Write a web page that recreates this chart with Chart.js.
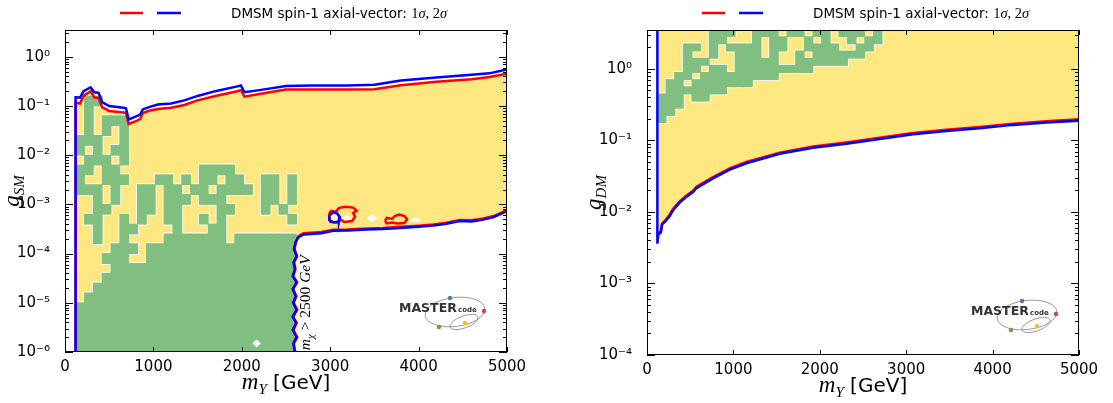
<!DOCTYPE html>
<html>
<head>
<meta charset="utf-8">
<title>DMSM spin-1 axial-vector</title>
<script src="https://cdn.jsdelivr.net/npm/chart.js@4.4.1/dist/chart.umd.min.js"></script>
<style>
  body { margin: 0; background: #fff; }
  canvas { position: absolute; top: 0; }
  #left { left: 0; }
  #right { left: 556px; }
</style>
</head>
<body>
<canvas id="left" width="556" height="403"></canvas>
<canvas id="right" width="557" height="403"></canvas>
<script>
// ---- values ----
const xTicks = [0, 1000, 2000, 3000, 4000, 5000];
const xTickLabels = ['0', '1000', '2000', '3000', '4000', '5000'];
const leftDecades = [1e-6, 1e-5, 1e-4, 1e-3, 1e-2, 1e-1, 1];
const leftDecadeLabels = ['10⁻⁶', '10⁻⁵', '10⁻⁴', '10⁻³', '10⁻²', '10⁻¹', '10⁰'];
const rightDecades = [1e-4, 1e-3, 1e-2, 1e-1, 1];
const rightDecadeLabels = ['10⁻⁴', '10⁻³', '10⁻²', '10⁻¹', '10⁰'];
const yTop = 3.5;

// left panel (g_SM): 1 sigma (red) and 2 sigma (blue) contours
const leftRedUpper = [[120,1e-6],[120,0.117],[170,0.112],[210,0.16],[290,0.2],[330,0.15],[380,0.145],[420,0.095],[500,0.079],[660,0.074],[690,0.073],[720,0.043],[810,0.05],[850,0.054],[880,0.072],[950,0.08],[1050,0.087],[1200,0.092],[1350,0.105],[1500,0.13],[1700,0.16],[1950,0.2],[1990,0.21],[2030,0.155],[2200,0.175],[2500,0.215],[2800,0.215],[3200,0.215],[3500,0.22],[3800,0.265],[4200,0.31],[4600,0.35],[4800,0.39],[5000,0.45]];
const leftBlueUpper = [[120,1e-6],[120,0.150],[170,0.148],[210,0.2],[290,0.24],[330,0.19],[380,0.185],[420,0.12],[500,0.1],[660,0.092],[690,0.09],[720,0.053],[810,0.062],[850,0.067],[880,0.085],[950,0.095],[1050,0.107],[1200,0.112],[1350,0.13],[1500,0.16],[1700,0.2],[1950,0.25],[1990,0.26],[2030,0.19],[2200,0.21],[2500,0.255],[2800,0.26],[3200,0.26],[3500,0.27],[3800,0.33],[4200,0.38],[4600,0.43],[4800,0.46],[5000,0.55]];
const leftBlueLower = [[2600,1e-6],[2582,1.5e-6],[2620,2.0e-6],[2576,2.8e-6],[2615,3.9e-6],[2575,5.2e-6],[2620,7.2e-6],[2580,1.0e-5],[2610,1.35e-5],[2575,1.9e-5],[2620,2.6e-5],[2575,3.5e-5],[2600,4.8e-5],[2585,6.6e-5],[2620,8.9e-5],[2590,1.23e-4],[2608,1.7e-4],[2635,2.1e-4],[2670,2.3e-4],[2700,2.45e-4],[2900,2.6e-4],[3035,2.9e-4],[3200,2.95e-4],[3413,3.1e-4],[3600,3.15e-4],[3790,3.3e-4],[4000,3.5e-4],[4166,3.7e-4],[4300,4.0e-4],[4468,4.6e-4],[4600,4.5e-4],[4732,4.9e-4],[4850,5.5e-4],[5000,7.3e-4]];
const leftRedLower = [[2605,1e-6],[2590,1.5e-6],[2628,2.0e-6],[2585,2.8e-6],[2622,3.9e-6],[2582,5.2e-6],[2628,7.2e-6],[2588,1.0e-5],[2618,1.35e-5],[2582,1.9e-5],[2626,2.6e-5],[2582,3.5e-5],[2608,4.8e-5],[2592,6.6e-5],[2626,8.9e-5],[2596,1.23e-4],[2615,1.75e-4],[2640,2.25e-4],[2675,2.45e-4],[2700,2.6e-4],[2900,2.75e-4],[3035,3.05e-4],[3200,3.1e-4],[3413,3.25e-4],[3600,3.3e-4],[3790,3.5e-4],[4000,3.7e-4],[4166,3.9e-4],[4300,4.2e-4],[4468,4.8e-4],[4600,4.75e-4],[4732,5.15e-4],[4850,5.8e-4],[5000,7.6e-4]];
const leftRedIslands = [
  [[2990,6.6e-4],[3010,7.4e-4],[3060,7.0e-4],[3100,8.5e-4],[3180,8.9e-4],[3260,8.6e-4],[3300,7.5e-4],[3260,6.7e-4],[3280,5.6e-4],[3250,4.6e-4],[3160,4.4e-4],[3120,4.9e-4],[3080,4.3e-4],[3000,4.4e-4],[2990,5.2e-4],[2990,6.6e-4]],
  [[3620,4.6e-4],[3640,5.3e-4],[3700,5.1e-4],[3730,5.8e-4],[3780,6.2e-4],[3840,5.8e-4],[3870,5.0e-4],[3840,4.2e-4],[3760,4.1e-4],[3700,4.3e-4],[3640,4.1e-4],[3620,4.6e-4]]
];
const leftBlueIsland = [[2990,6.0e-4],[3040,7.0e-4],[3080,6.5e-4],[3110,5.5e-4],[3100,4.5e-4],[3040,4.3e-4],[2990,4.8e-4],[2990,6.0e-4]];
const leftWhiteHoles = [
  [[2120,1.5e-6],[2168,1.8e-6],[2215,1.5e-6],[2168,1.25e-6]],
  [[3005,5.6e-4],[3050,6.3e-4],[3090,5.4e-4],[3070,4.6e-4],[3015,4.6e-4]],
  [[3140,5.2e-4],[3180,6.1e-4],[3230,5.6e-4],[3230,4.8e-4],[3170,4.6e-4]],
  [[3410,5.2e-4],[3475,6.2e-4],[3540,5.2e-4],[3475,4.4e-4]],
  [[3900,4.8e-4],[3960,5.4e-4],[4030,4.8e-4],[3960,4.3e-4]]
];

// profile-likelihood cells: 'G' = green (68% CL) cell, '.' = none
// columns are 100 GeV wide, centred on cellX; rows run downwards from rowTop in log10 steps
const cellX = [170,270,370,470,570,670,770,870,970,1070,1170,1270,1370,1470,1570,1670,1770,1870,1970,2070,2170,2270,2370,2470,2570,2670];
const leftRowTop = -0.6, leftRowStep = 0.2;
const leftGreen = [
  ".........................",
  ".GG......................",
  ".G.......................",
  ".G.GGG...................",
  ".G.G.G...................",
  "GGG..G...................",
  "G.G.GG...................",
  ".GGG.G...................",
  "GG.GG.........GGGG.......",
  "G..GGG...GG.G.GG.GG..GG.G",
  "GGG.G..GG.GG.GG.GGGG.GG.G",
  "..G.G..GG.GGG.GGG....GG.G",
  "..GG...GG.GG....GG...G.G.",
  ".GG..G.G..GG..G.G.......G",
  "..G..GG....G...GG........",
  "..G..G....GGGGGGG.GGGGGGG",
  "....GGG.GGGGGGGGGGGGGGGGG",
  "...GGG..GGGGGGGGGGGGGGGGG",
  "....GGGGGGGGGGGGGGGGGGGGG",
  "...GGGGGGGGGGGGGGGGGGGGGG",
  "..GGGGGGGGGGGGGGGGGGGGGGG",
  ".GGGGGGGGGGGGGGGGGGGGGGGG",
  "GGGGGGGGGGGGGGGGGGGGGGGGG",
  "GGGGGGGGGGGGGGGGGGGGGGGGG",
  "GGGGGGGGGGGGGGGGGGGGGGGGG",
  "GGGGGGGGGGGGGGGGGGGGGGGGG",
  "GGGGGGGGGGGGGGGGGGGGGGGGG"
];

// right panel (g_DM)
const rightBlue = [[120,3.5],[120,3.6e-3],[130,4.8e-3],[160,5.2e-3],[175,6.7e-3],[210,7.3e-3],[263,8.8e-3],[300,1.05e-2],[378,1.35e-2],[450,1.6e-2],[532,1.9e-2],[572,2.15e-2],[764,2.95e-2],[957,3.9e-2],[1150,4.8e-2],[1536,6.5e-2],[1921,7.9e-2],[2307,9.0e-2],[2693,0.105],[3080,0.122],[3465,0.136],[3851,0.148],[4237,0.165],[4623,0.178],[5000,0.188]];
const rightRed = [[128,4.9e-3],[160,5.4e-3],[175,6.9e-3],[210,7.6e-3],[263,9.2e-3],[300,1.1e-2],[378,1.4e-2],[450,1.67e-2],[532,1.98e-2],[572,2.25e-2],[764,3.08e-2],[957,4.05e-2],[1150,5.0e-2],[1536,6.75e-2],[1921,8.2e-2],[2307,9.35e-2],[2693,0.109],[3080,0.127],[3465,0.141],[3851,0.154],[4237,0.171],[4623,0.185],[5000,0.198]];
const rightRowTop = 0.55, rightRowStep = 0.1;
const rightGreen = [
  "......GGG..GGG.GG.GG.GGG.G",
  "......GG...G.GG..G.G..G.GG",
  "...GG.G.GGGG.GG..GGGG..GG.",
  "...G..G..GGG.G..G.GGGGGG..",
  "...GGG...GGGGG..GGGGGG....",
  "...GG.GG.GGGGGGGGG........",
  "..GG.GGGGGGGGG............",
  ".GG.GGGGGGG...............",
  ".GGGGGGG..................",
  "GGG.GG....................",
  "GGG.......................",
  "GG........................",
  "G........................."
];

const noteX = 2770, noteY = 1e-5;

// ---- styling ----
const SANS = '"DejaVu Sans", Verdana, sans-serif';
const SERIF = '"Liberation Serif", "DejaVu Serif", serif';
const YELLOW = '#ffe882', GREEN = '#80bf80', RED = '#ff0000', BLUE = '#0000ff';

const pts = arr => arr.map(p => ({x: p[0], y: p[1]}));

function lineSet(data, color, order) {
  return {type: 'line', data: pts(data), borderColor: color, borderWidth: 2.5, pointRadius: 0,
          fill: false, tension: 0, order: order};
}
function areaSet(data, color, fill, order) {
  return {type: 'line', data: pts(data), backgroundColor: color, borderWidth: 0, pointRadius: 0,
          fill: fill, tension: 0, order: order, clip: 0};
}
// turn the cell rows into floating bars, one bar per vertical run of green cells.
// a slightly wider white copy goes underneath so the green patches get a thin white edge
function cellBars(rows, rowTop, rowStep) {
  const lists = [];
  for (let c = 0; c < rows[0].length; c++) {
    let start = -1, k = 0;
    for (let r = 0; r <= rows.length; r++) {
      const on = r < rows.length && rows[r][c] === 'G';
      if (on && start < 0) start = r;
      if (!on && start >= 0) {
        (lists[k] = lists[k] || []).push({x: cellX[c],
          y: [Math.pow(10, rowTop - rowStep * r), Math.pow(10, rowTop - rowStep * start)]});
        k++;
        start = -1;
      }
    }
  }
  const bar = (data, color, inflate, order) => ({type: 'bar', data: data, backgroundColor: color, borderWidth: 0,
    grouped: false, barPercentage: 1, categoryPercentage: 1, inflateAmount: inflate, clip: 0, order: order});
  return lists.map(d => bar(d, '#ffffff', 1.3, 9)).concat(lists.map(d => bar(d, GREEN, 0.5, 8)));
}

function logTicks(decades, max) {
  const t = [];
  decades.forEach(d => {
    t.push({value: d, major: true});
    for (let m = 2; m <= 9; m++) if (d * m <= max) t.push({value: d * m, major: false});
  });
  return t;
}

function drawRuns(ctx, runs, x, y, align) {
  let w = 0;
  runs.forEach(r => { ctx.font = r[1]; w += ctx.measureText(r[0]).width; });
  let cx = align === 'center' ? x - w / 2 : x;
  runs.forEach(r => {
    ctx.font = r[1];
    ctx.fillText(r[0], cx, y + (r[2] || 0));
    cx += ctx.measureText(r[0]).width;
  });
}

const decor = {
  id: 'decor',
  afterDraw(chart, args, o) {
    const {ctx, chartArea: a, scales: {x, y}} = chart;
    ctx.save();
    ctx.textAlign = 'left';
    ctx.textBaseline = 'alphabetic';

    // frame and inward ticks
    ctx.strokeStyle = '#000';
    ctx.lineWidth = 1;
    ctx.beginPath();
    x.ticks.forEach(t => {
      const p = Math.round(x.getPixelForValue(t.value)) + 0.5;
      ctx.moveTo(p, a.bottom); ctx.lineTo(p, a.bottom - 5);
      ctx.moveTo(p, a.top); ctx.lineTo(p, a.top + 5);
    });
    y.ticks.forEach(t => {
      const p = Math.round(y.getPixelForValue(t.value)) + 0.5;
      const l = t.major ? 8 : 4;
      ctx.moveTo(a.left, p); ctx.lineTo(a.left + l, p);
      ctx.moveTo(a.right, p); ctx.lineTo(a.right - l, p);
    });
    ctx.stroke();
    ctx.strokeRect(a.left + 0.5, a.top + 0.5, a.width - 1, a.height - 1);

    // legend
    ctx.lineWidth = 2.5;
    ctx.strokeStyle = RED;
    ctx.beginPath(); ctx.moveTo(a.left + 55, 13); ctx.lineTo(a.left + 78, 13); ctx.stroke();
    ctx.strokeStyle = BLUE;
    ctx.beginPath(); ctx.moveTo(a.left + 92, 13); ctx.lineTo(a.left + 116, 13); ctx.stroke();
    ctx.fillStyle = '#000';
    drawRuns(ctx, [['DMSM spin-1 axial-vector: ', `13.5px ${SANS}`], ['1', `14.5px ${SERIF}`],
      ['σ', `italic 14.5px ${SERIF}`], [', 2', `14.5px ${SERIF}`], ['σ', `italic 14.5px ${SERIF}`]],
      a.left + 166, 17.5, 'left');

    // axis titles
    drawRuns(ctx, [['m', `italic 23px ${SERIF}`], ['Y', `italic 15px ${SERIF}`, 5], [' [GeV]', `20px ${SANS}`]],
      (a.left + a.right) / 2, a.bottom + 37, 'center');
    ctx.save();
    ctx.translate(a.left - 46, (a.top + a.bottom) / 2);
    ctx.rotate(-Math.PI / 2);
    drawRuns(ctx, [['g', `italic 23px ${SERIF}`], [o.ySub, `italic 15px ${SERIF}`, 5]], 0, 0, 'center');
    ctx.restore();

    // note along the m_chi boundary
    if (o.note) {
      ctx.save();
      ctx.translate(x.getPixelForValue(noteX), y.getPixelForValue(noteY));
      ctx.rotate(-Math.PI / 2);
      drawRuns(ctx, [['m', `italic 15.5px ${SERIF}`], ['χ', `italic 11px ${SERIF}`, 4],
        [' > 2500 ', `15.5px ${SERIF}`], ['GeV', `italic 15.5px ${SERIF}`]], 0, 0, 'center');
      ctx.restore();
    }

    // MasterCode logo
    const lx = a.right - 108, ly = a.bottom - 40;
    ctx.strokeStyle = '#808080';
    ctx.lineWidth = 0.8;
    ctx.beginPath(); ctx.ellipse(lx + 56, ly, 30, 14.5, -0.12, 0, Math.PI * 2); ctx.stroke();
    ctx.beginPath(); ctx.ellipse(lx + 65, ly + 10, 15, 6, -0.35, 0, Math.PI * 2); ctx.stroke();
    ctx.fillStyle = '#333';
    ctx.font = `bold 12.5px ${SANS}`;
    ctx.fillText('MASTER', lx, ly);
    ctx.font = `bold 7px ${SANS}`;
    ctx.fillText('code', lx + 59, ly);
    [[51, -14, '#4a78a8'], [85, -1, '#d04a40'], [66, 11, '#f2c21e'], [40, 15, '#6aa04e']].forEach(d => {
      ctx.fillStyle = d[2];
      ctx.beginPath(); ctx.arc(lx + d[0], ly + d[1], 2.2, 0, Math.PI * 2); ctx.fill();
    });
    ctx.restore();
  }
};

function makeOptions(cfg) {
  return {
    responsive: false,
    animation: false,
    events: [],
    layout: {padding: {top: 30, right: cfg.padRight, bottom: 0, left: 0}},
    plugins: {legend: {display: false}, tooltip: {enabled: false}, decor: cfg.decor},
    scales: {
      x: {
        type: 'linear', min: 0, max: 5000, offset: false,
        afterBuildTicks: s => { s.ticks = xTicks.map(v => ({value: v})); },
        afterFit: s => { s.height = cfg.xHeight; },
        grid: {display: false}, border: {display: false},
        ticks: {color: '#000', font: {family: SANS, size: 15}, padding: -2, maxRotation: 0, autoSkip: false,
                callback: v => xTickLabels[xTicks.indexOf(v)]}
      },
      y: {
        type: 'logarithmic', min: cfg.yMin, max: yTop,
        afterBuildTicks: s => { s.ticks = logTicks(cfg.decades, yTop); },
        afterFit: s => { s.width = cfg.yWidth; },
        grid: {display: false}, border: {display: false},
        ticks: {color: '#000', font: {family: SANS, size: 15}, padding: 7, autoSkip: false,
                callback: v => { const i = cfg.decades.indexOf(v); return i < 0 ? '' : cfg.labels[i]; }}
      }
    }
  };
}

new Chart(document.getElementById('left'), {
  type: 'line',
  data: {
    datasets: [
      areaSet(leftRedUpper, YELLOW, 'start', 10),
      ...cellBars(leftGreen, leftRowTop, leftRowStep),
      areaSet(leftBlueLower.concat([[5000, 1e-6]]), '#ffffff', 'shape', 6),
      ...leftWhiteHoles.map(h => areaSet(h, '#ffffff', 'shape', 6)),
      lineSet(leftRedUpper, RED, 2),
      lineSet(leftRedLower, RED, 2),
      ...leftRedIslands.map(l => lineSet(l, RED, 2)),
      lineSet(leftBlueUpper, BLUE, 1),
      lineSet(leftBlueLower, BLUE, 1),
      lineSet(leftBlueIsland, BLUE, 1)
    ]
  },
  options: makeOptions({padRight: 49, xHeight: 51, yWidth: 65, yMin: 1e-6,
    decades: leftDecades, labels: leftDecadeLabels, decor: {ySub: 'SM', note: true}}),
  plugins: [decor]
});

new Chart(document.getElementById('right'), {
  type: 'line',
  data: {
    datasets: [
      areaSet(rightBlue.slice(1), YELLOW, 'end', 10),
      ...cellBars(rightGreen, rightRowTop, rightRowStep),
      lineSet(rightRed, RED, 2),
      lineSet(rightBlue, BLUE, 1)
    ]
  },
  options: makeOptions({padRight: 34, xHeight: 48, yWidth: 91, yMin: 1e-4,
    decades: rightDecades, labels: rightDecadeLabels, decor: {ySub: 'DM', note: false}}),
  plugins: [decor]
});
</script>
</body>
</html>
